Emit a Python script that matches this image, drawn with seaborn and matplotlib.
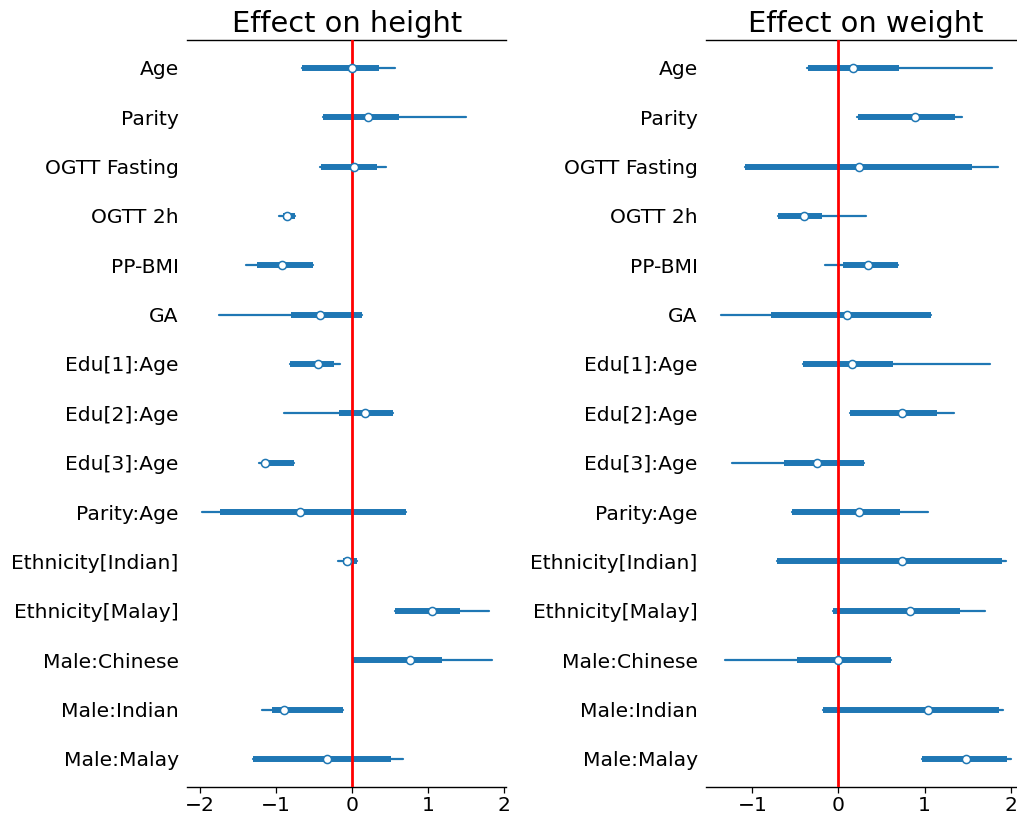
import numpy as np
import pandas as pd
import matplotlib
matplotlib.use("Agg")
import matplotlib.pyplot as plt
import seaborn as sns

terms = ["Age", "Parity", "OGTT Fasting", "OGTT 2h", "PP-BMI", "GA",
         "Edu[1]:Age", "Edu[2]:Age", "Edu[3]:Age", "Parity:Age",
         "Ethnicity[Indian]", "Ethnicity[Malay]", "Male:Chinese",
         "Male:Indian", "Male:Malay"]

# Effect on height: posterior median, inter-quartile range, 94% HDI
height_mid = [0.00, 0.215, 0.031, -0.854, -0.924, -0.425, -0.451, 0.171, -1.147,
              -0.679, -0.070, 1.051, 0.767, -0.889, -0.329]
height_q_lo = [-0.650, -0.377, -0.412, -0.902, -1.253, -0.802, -0.810, -0.175, -1.165,
               -1.735, -0.122, 0.565, 0.013, -1.047, -1.297]
height_q_hi = [0.355, 0.618, 0.333, -0.749, -0.508, 0.131, -0.237, 0.534, -0.758,
               0.714, 0.061, 1.419, 1.178, -0.114, 0.517]
height_hdi_lo = [-0.660, -0.380, -0.415, -0.959, -1.389, -1.743, -0.812, -0.894, -1.222,
                 -1.975, -0.180, 0.560, 0.010, -1.179, -1.300]
height_hdi_hi = [0.565, 1.494, 0.443, -0.749, -0.508, 0.135, -0.153, 0.534, -0.758,
                 0.714, 0.065, 1.800, 1.836, -0.114, 0.666]

# Effect on weight
weight_mid = [0.175, 0.892, 0.241, -0.395, 0.349, 0.097, 0.163, 0.744, -0.248,
              0.241, 0.737, 0.834, -0.003, 1.039, 1.481]
weight_q_lo = [-0.356, 0.225, -1.081, -0.701, 0.058, -0.779, -0.407, 0.132, -0.628,
               -0.538, -0.713, -0.058, -0.477, -0.174, 0.973]
weight_q_hi = [0.698, 1.349, 1.551, -0.193, 0.694, 1.074, 0.632, 1.144, 0.302,
               0.717, 1.900, 1.415, 0.609, 1.860, 1.958]
weight_hdi_lo = [-0.360, 0.220, -1.085, -0.705, -0.151, -1.367, -0.410, 0.130, -1.236,
                 -0.540, -0.715, -0.060, -1.317, -0.176, 0.970]
weight_hdi_hi = [1.787, 1.434, 1.853, 0.322, 0.694, 1.074, 1.764, 1.342, 0.302,
                 1.035, 1.950, 1.698, 0.609, 1.912, 2.005]

panels = [
    ("Effect on height", height_mid, height_q_lo, height_q_hi, height_hdi_lo, height_hdi_hi),
    ("Effect on weight", weight_mid, weight_q_lo, weight_q_hi, weight_hdi_lo, weight_hdi_hi),
]

sns.set_style("white")
plt.rcParams["font.family"] = ["DejaVu Sans"]
plt.rcParams["text.color"] = "black"
plt.rcParams["xtick.color"] = "black"
plt.rcParams["ytick.color"] = "black"
plt.rcParams["axes.labelcolor"] = "black"

BLUE = "#1f77b4"
fig = plt.figure(figsize=(10.17, 8.18), dpi=100)
axes_pos = [[0.1839, 0.0382, 0.3140, 0.9130],
            [0.6944, 0.0382, 0.3140, 0.9130]]

rows = np.arange(len(terms))

for pos, (title, mid, qlo, qhi, hlo, hhi) in zip(axes_pos, panels):
    ax = fig.add_axes(pos)

    def segments(lo, hi):
        return pd.DataFrame({
            "term": terms * 2,
            "row": np.concatenate([rows, rows]),
            "value": list(lo) + list(hi),
        })

    sns.lineplot(data=segments(hlo, hhi), x="value", y="row", units="term",
                 estimator=None, color=BLUE, lw=1.6, ax=ax, legend=False)
    sns.lineplot(data=segments(qlo, qhi), x="value", y="row", units="term",
                 estimator=None, color=BLUE, lw=4.3, solid_capstyle="butt",
                 ax=ax, legend=False)
    ax.axvline(0, color="red", lw=2.0, zorder=3)
    sns.scatterplot(x=mid, y=rows, ax=ax, color="white", edgecolor=BLUE,
                    s=34, linewidth=1.1, zorder=4, legend=False)

    ax.set_ylim(len(terms) - 1 + 0.565, -0.565)
    ax.set_yticks(rows)
    ax.set_yticklabels(terms, fontsize=14.6, color="black")
    ax.tick_params(axis="y", length=0, pad=6)
    ax.tick_params(axis="x", labelsize=14.6, length=4, width=0.9, direction="out",
                   bottom=True, pad=3, colors="black")
    ax.set_xticks([-2, -1, 0, 1, 2])
    ax.set_xticklabels(["\u22122", "\u22121", "0", "1", "2"])
    lo_all = min(hlo)
    hi_all = max(hhi)
    span = hi_all - lo_all
    ax.set_xlim(lo_all - 0.05 * span, hi_all + 0.05 * span)
    ax.set_xlabel("")
    ax.set_ylabel("")
    ax.set_title(title, fontsize=20.8, pad=6, color="black")
    for side in ("left", "right"):
        ax.spines[side].set_visible(False)
    for side in ("top", "bottom"):
        ax.spines[side].set_visible(True)
        ax.spines[side].set_color("black")
        ax.spines[side].set_linewidth(1.0)

fig.savefig("out.png", dpi=100)
